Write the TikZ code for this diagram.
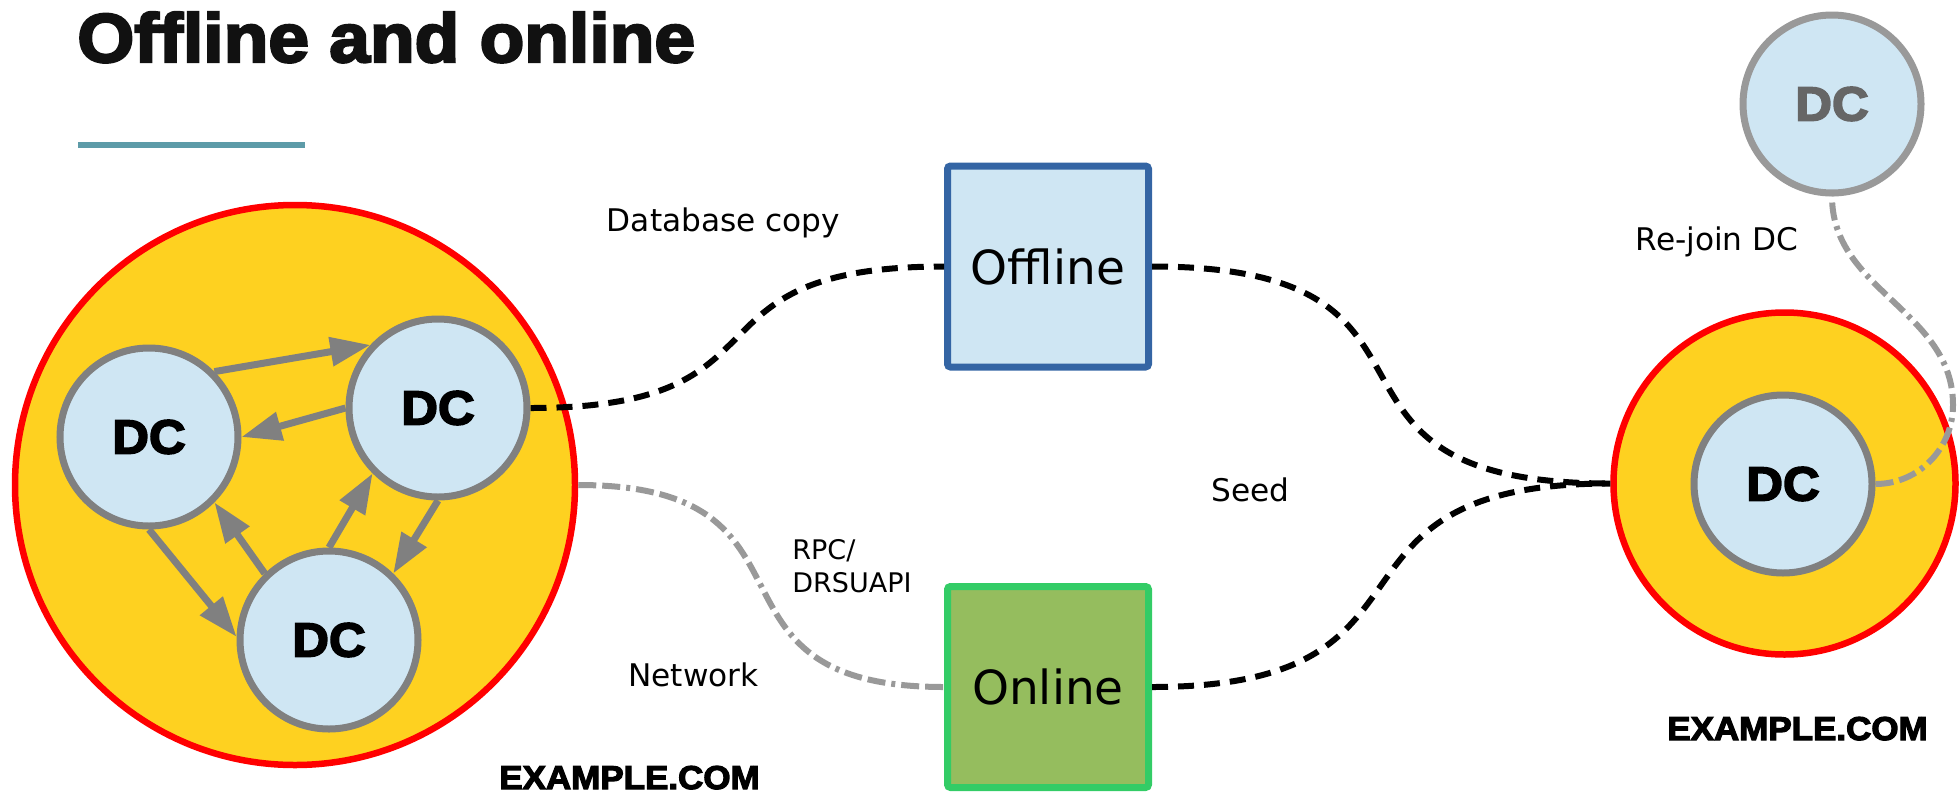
\documentclass[tikz,border=0pt]{standalone}
\usepackage{fontspec}
\setmainfont{DejaVu Sans}
\newfontfamily\heavyfont{Liberation Sans}[UprightFont={* Bold},FakeBold=3.5,FakeStretch=1.06]
\usetikzlibrary{arrows.meta}
\definecolor{titleblack}{RGB}{17,17,17}
\definecolor{ruleteal}{RGB}{93,155,168}
\definecolor{dcfill}{RGB}{207,230,243}
\definecolor{dcgray}{RGB}{128,128,128}
\definecolor{dcgraytext}{RGB}{102,102,102}
\definecolor{forestfill}{RGB}{254,209,32}
\definecolor{offlineblue}{RGB}{52,101,164}
\definecolor{onlinefill}{RGB}{149,189,94}
\definecolor{onlinegreen}{RGB}{51,204,102}
\definecolor{linkgray}{RGB}{153,153,153}

\begin{document}
\begin{tikzpicture}[x=0.5pt, y=0.5pt,
    dc/.style={circle, draw=dcgray, line width=3.5pt, fill=dcfill, minimum size=89pt,
      inner sep=0pt, font=\heavyfont\fontsize{24}{24}\selectfont},
    adforest/.style={circle, draw=red, line width=3.25pt, fill=forestfill, inner sep=0pt},
    dbbox/.style={rectangle, rounded corners=1.5pt, line width=3.5pt, minimum size=100.5pt,
      inner sep=0pt, font=\fontsize{23.5}{28}\selectfont},
    lbl/.style={inner sep=0pt, font=\fontsize{15.6}{19}\selectfont},
    heavylbl/.style={inner sep=0pt, anchor=base, font=\heavyfont\fontsize{16.5}{16.5}\selectfont},
    seedline/.style={line width=3pt, dash pattern=on 8pt off 5pt},
    netline/.style={line width=3pt, draw=linkgray,
      dash pattern=on 9pt off 3pt on 9pt off 3pt on 2pt off 3pt},
    replarrow/.style={every edge/.style={draw=dcgray, line width=3.5pt,
      -{Triangle[length=20pt,width=14pt]}}}]
  \useasboundingbox (0,0) rectangle (1959,-793);

  \node[anchor=base west, inner sep=0pt, text=titleblack,
    font=\heavyfont\fontsize{34.5}{34.5}\selectfont] (title) at (77,-62) {Offline and online};
  \draw[ruleteal, line width=3pt] (78,-145) -- (305,-145);

  \node[adforest, minimum size=280pt] (homedomain) at (295,-485) {};
  \node[dc] (dca) at (149,-437) {DC};
  \node[dc] (dcb) at (438,-408) {DC};
  \node[dc] (dcc) at (329,-640) {DC};
  \path[replarrow]
    (dca.45) edge (dcb.137)
    (dcb.180) edge (dca.0)
    (dca.270) edge (dcc.178)
    (dcc.134) edge (dca.315)
    (dcc.90) edge (dcb.225)
    (dcb.270) edge (dcc.46);

  \node[dbbox, draw=offlineblue, fill=dcfill] (offline) at (1048,-266.5) {Offline};
  \node[dbbox, draw=onlinegreen, fill=onlinefill] (online) at (1048,-687) {Online};

  \node[adforest, minimum size=171pt] (newdomain) at (1784.5,-483.5) {};
  \node[dc] (newdc) at (1783,-484) {DC};
  \node[dc, draw=linkgray, text=dcgraytext] (olddc) at (1832,-104) {DC};

  \node[lbl, anchor=base] (dbcopy) at (723.5,-231) {Database copy};
  \node[lbl, anchor=base] (network) at (693.5,-686) {Network};
  \node[lbl, anchor=west, align=left, font=\fontsize{13.5}{16.5}\selectfont] (rpc)
    at (792,-566) {RPC/\\DRSUAPI};
  \node[lbl, anchor=base] (seedlbl) at (1250.5,-501) {Seed};
  \node[lbl, anchor=base] (rejoin) at (1717,-250.5) {Re-join DC};
  \node[heavylbl] (homename) at (629.5,-789) {EXAMPLE.COM};
  \node[heavylbl] (newname) at (1797.5,-740) {EXAMPLE.COM};

  \draw[seedline] (dcb.east) to[out=0, in=180, looseness=1.6] (offline.west);
  \draw[seedline] (offline.east) to[out=0, in=180, looseness=1.7] (newdomain.west);
  \draw[seedline] (online.east) to[out=0, in=180, looseness=1.6] (newdomain.west);
  \draw[netline] (homedomain.east) to[out=0, in=180, looseness=1.6] (online.west);
  \coordinate (rejoinbend) at (1953,-405);
  \draw[netline] (newdc.east) to[out=0, in=-90] (rejoinbend) to[out=90, in=-90] (olddc.south);
\end{tikzpicture}
\end{document}
